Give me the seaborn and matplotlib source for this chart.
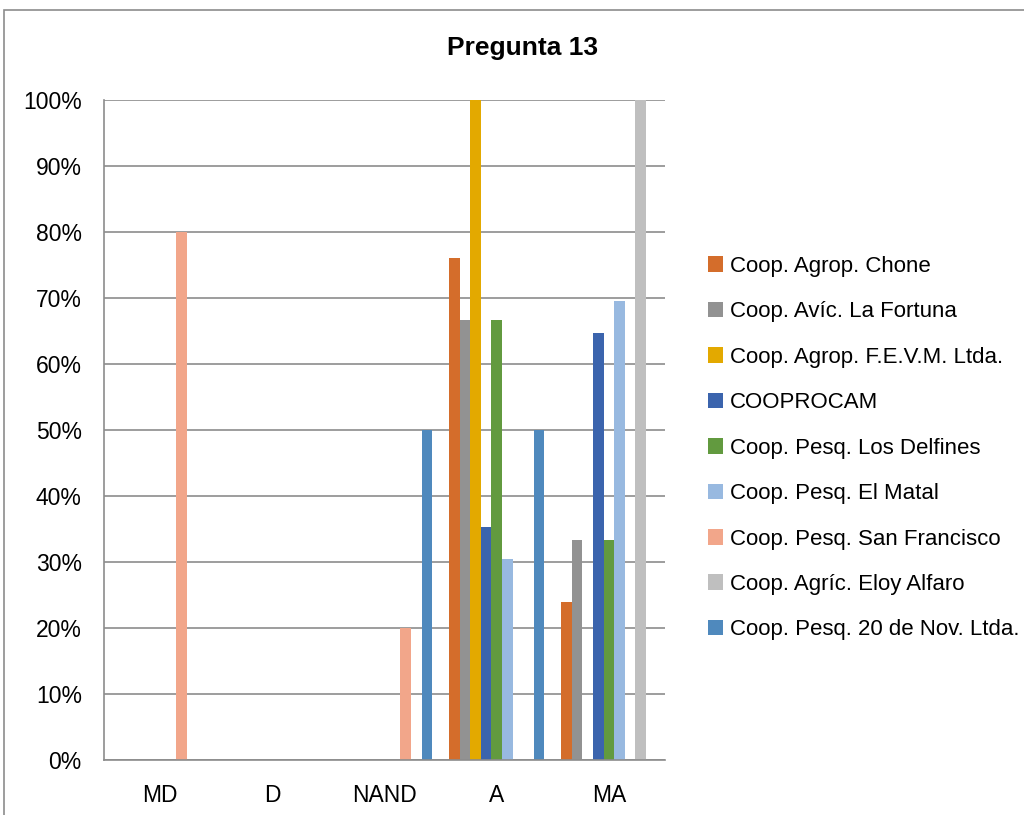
import matplotlib
matplotlib.use("Agg")
import matplotlib.pyplot as plt
import matplotlib.patches as mpatches
from matplotlib import font_manager
import seaborn as sns
import pandas as pd

categorias = ["MD", "D", "NAND", "A", "MA"]
cooperativas = [
    "Coop. Agrop. Chone",
    "Coop. Avíc. La Fortuna",
    "Coop. Agrop. F.E.V.M. Ltda.",
    "COOPROCAM",
    "Coop. Pesq. Los Delfines",
    "Coop. Pesq. El Matal",
    "Coop. Pesq. San Francisco",
    "Coop. Agríc. Eloy Alfaro",
    "Coop. Pesq. 20 de Nov. Ltda.",
]
# porcentaje por categoria (MD, D, NAND, A, MA)
chone = [0, 0, 0, 76.0, 24.0]
fortuna = [0, 0, 0, 66.7, 33.3]
fevm = [0, 0, 0, 100.0, 0]
cooprocam = [0, 0, 0, 35.3, 64.7]
delfines = [0, 0, 0, 66.7, 33.3]
matal = [0, 0, 0, 30.4, 69.6]
san_francisco = [80.0, 0, 20.0, 0, 0]
eloy_alfaro = [0, 0, 0, 0, 100.0]
nov20 = [0, 0, 50.0, 50.0, 0]

colores = ["#D46D2B", "#929292", "#E3A900", "#3B64AD", "#629A3F",
           "#98B9E0", "#F2A68A", "#BFBFBF", "#4F89BD"]

series = [chone, fortuna, fevm, cooprocam, delfines, matal,
          san_francisco, eloy_alfaro, nov20]
filas = []
for nombre, vals in zip(cooperativas, series):
    for cat, v in zip(categorias, vals):
        filas.append({"cat": cat, "coop": nombre, "val": v})
df = pd.DataFrame(filas)

sns.set_style("white")
nombres = {f.name for f in font_manager.fontManager.ttflist}
fuente = "Liberation Sans Narrow" if "Liberation Sans Narrow" in nombres else "Liberation Sans"
plt.rcParams["font.family"] = [fuente, "DejaVu Sans"]
plt.rcParams["text.color"] = "black"

fig = plt.figure(figsize=(10.24, 8.15), dpi=100)
ax = fig.add_axes([104 / 1024, 55 / 815, 561 / 1024, 660 / 815])

sns.barplot(data=df, x="cat", y="val", hue="coop", order=categorias,
            hue_order=cooperativas, palette=colores, width=0.85,
            saturation=1, ax=ax, legend=False)
for p in ax.patches:
    p.set_edgecolor("none")

ax.set_ylim(0, 100)
ax.set_xlim(-0.5, 4.5)
ax.set_yticks(range(0, 101, 10))
ax.set_yticklabels([f"{t}%" for t in range(0, 101, 10)])
ax.yaxis.grid(True, color="#8C8C8C", linewidth=1.2)
ax.set_axisbelow(True)
ax.set_xlabel("")
ax.set_ylabel("")
for s in ["top", "right"]:
    ax.spines[s].set_visible(False)
for s in ["left", "bottom"]:
    ax.spines[s].set_color("#8C8C8C")
    ax.spines[s].set_linewidth(1.2)
ax.tick_params(axis="both", length=0, labelsize=16.5, colors="black")
ax.tick_params(axis="x", pad=17)
ax.tick_params(axis="y", pad=16)

fig.text(523 / 1024, 1 - 48 / 815, "Pregunta 13", ha="center", va="center",
         fontsize=19, fontweight="bold", color="black")

handles = [mpatches.Patch(facecolor=c, edgecolor="none") for c in colores]
fig.legend(handles, cooperativas, loc="upper left",
           bbox_to_anchor=(699 / 1024, 1 - 247 / 815), frameon=False,
           fontsize=16, handlelength=0.7, handleheight=0.7,
           handletextpad=0.3, labelspacing=1.1, borderaxespad=0)

# borde del area del grafico
fig.patches.append(mpatches.Rectangle((4 / 1024, -0.1), 1.2, 1.1 - 10 / 815,
                                      transform=fig.transFigure,
                                      fill=False, edgecolor="#8C8C8C",
                                      linewidth=1.2))

fig.savefig("out.png", dpi=100)
